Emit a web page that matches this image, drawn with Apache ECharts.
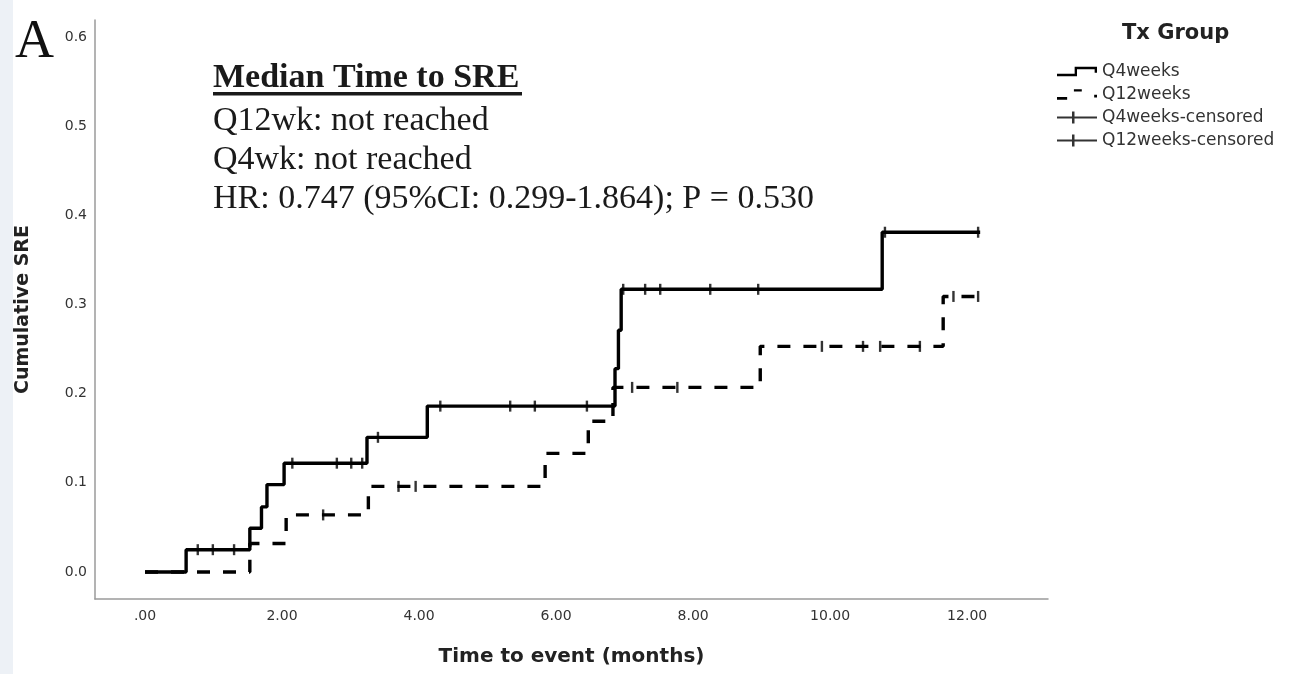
<!DOCTYPE html>
<html>
<head>
<meta charset="utf-8">
<script src="https://cdn.jsdelivr.net/npm/echarts@6/dist/echarts.min.js"></script>
<style>
html,body{margin:0;padding:0;background:#fff}
#chart{width:1296px;height:674px}
</style>
</head>
<body>
<div id="chart"></div>
<script>
// Cumulative incidence of skeletal-related events (SRE) by treatment interval
const xTicks = [0, 2, 4, 6, 8, 10, 12];
const yTicks = [0, 0.1, 0.2, 0.3, 0.4, 0.5, 0.6];

// Step points: [months, cumulative SRE]
const q4Steps = [[0,0],[0.60,0.025],[1.53,0.049],[1.70,0.073],[1.78,0.098],[2.03,0.122],[3.24,0.151],[4.12,0.186],[6.86,0.228],[6.91,0.271],[6.95,0.317],[10.76,0.381],[12.19,0.381]];
const q12Steps = [[0,0],[1.53,0.032],[2.06,0.064],[3.26,0.096],[5.84,0.133],[6.47,0.169],[6.83,0.207],[8.98,0.253],[11.65,0.309],[12.19,0.309]];

// Censored observations
const q4Censored = [[0.77,0.025],[0.99,0.025],[1.30,0.025],[2.15,0.122],[2.80,0.122],[3.01,0.122],[3.17,0.122],[3.40,0.151],[4.31,0.186],[5.33,0.186],[5.69,0.186],[6.45,0.186],[6.98,0.317],[7.30,0.317],[7.52,0.317],[8.25,0.317],[8.95,0.317],[10.80,0.381],[12.16,0.381]];
const q12Censored = [[2.60,0.064],[3.70,0.096],[3.95,0.096],[7.11,0.207],[7.77,0.207],[9.88,0.253],[10.48,0.253],[10.73,0.253],[11.31,0.253],[11.80,0.309],[12.16,0.309]];

const groupNames = ['Q4weeks', 'Q12weeks', 'Q4weeks-censored', 'Q12weeks-censored'];
const annotation = [
  'Median Time to SRE',
  'Q12wk: not reached',
  'Q4wk: not reached',
  'HR: 0.747 (95%CI: 0.299-1.864); P = 0.530'
];

const SANS = '"DejaVu Sans", "Liberation Sans", sans-serif';
const SERIF = '"Liberation Serif", "Times New Roman", serif';

// Legend glyphs (40 x 12 box)
const iconStep = 'path://M0,7 L15,7 L15,1 L34,1 L34,6 L32,6 L32,3 L17,3 L17,9 L0,9 Z';
const iconDash = 'path://M0,8 L9,8 L9,10.5 L0,10.5 Z M15,1 L22,1 L22,3 L15,3 Z M33,6 L35.5,6 L35.5,8.5 L33,8.5 Z';
const iconCensor = 'path://M0,5 L40,5 L40,7 L0,7 Z M15,0 L17.5,0 L17.5,12 L15,12 Z';

const chart = echarts.init(document.getElementById('chart'), null, { renderer: 'canvas' });

chart.setOption({
  animation: false,
  backgroundColor: '#ffffff',
  title: {
    text: 'Tx Group',
    left: 1117,
    top: 18,
    textStyle: { fontFamily: SANS, fontSize: 21, fontWeight: 'bold', color: '#222' }
  },
  legend: {
    orient: 'vertical',
    left: 1052,
    top: 58,
    itemWidth: 40,
    itemHeight: 12,
    itemGap: 6,
    itemStyle: { borderWidth: 0 },
    textStyle: { fontFamily: SANS, fontSize: 17, color: '#333', lineHeight: 17 },
    data: [
      { name: groupNames[0], icon: iconStep },
      { name: groupNames[1], icon: iconDash },
      { name: groupNames[2], icon: iconCensor },
      { name: groupNames[3], icon: iconCensor }
    ]
  },
  grid: { left: 95, right: 248, top: 20, bottom: 75, containLabel: false },
  xAxis: {
    type: 'value',
    min: -0.73,
    max: 13.18,
    name: 'Time to event (months)',
    nameLocation: 'middle',
    nameGap: 48,
    nameTextStyle: { fontFamily: SANS, fontSize: 20, fontWeight: 'bold', color: '#222' },
    axisLine: { show: true, onZero: false, lineStyle: { color: '#9a9a9a', width: 1.5 } },
    axisTick: { show: false },
    splitLine: { show: false },
    axisLabel: {
      customValues: xTicks,
      margin: 10,
      fontFamily: SANS,
      fontSize: 14,
      color: '#333',
      formatter: v => (v === 0 ? '.00' : v.toFixed(2))
    }
  },
  yAxis: {
    type: 'value',
    min: -0.0303,
    max: 0.619,
    name: 'Cumulative SRE',
    nameLocation: 'middle',
    nameGap: 62,
    nameTextStyle: { fontFamily: SANS, fontSize: 19, fontWeight: 'bold', color: '#222' },
    axisLine: { show: true, onZero: false, lineStyle: { color: '#9a9a9a', width: 1.5 } },
    axisTick: { show: false },
    splitLine: { show: false },
    axisLabel: {
      customValues: yTicks,
      margin: 8,
      fontFamily: SANS,
      fontSize: 14,
      color: '#333',
      formatter: v => v.toFixed(1)
    }
  },
  graphic: [
    { type: 'rect', left: 0, top: 0, z: -10, shape: { width: 13, height: 674 }, style: { fill: '#edf1f6' } },
    { type: 'text', x: 15, y: 43, style: { text: 'A', font: '54px ' + SERIF, fill: '#111', textVerticalAlign: 'middle', verticalAlign: 'middle' } },
    { type: 'text', x: 213, y: 78, style: { text: annotation[0], font: 'bold 34px ' + SERIF, fill: '#1a1a1a', textVerticalAlign: 'middle', verticalAlign: 'middle' } },
    { type: 'rect', shape: { x: 213, y: 92, width: 309, height: 3.5 }, style: { fill: '#1a1a1a' } },
    { type: 'text', x: 213, y: 121, style: { text: annotation[1], font: '34px ' + SERIF, fill: '#1a1a1a', textVerticalAlign: 'middle', verticalAlign: 'middle' } },
    { type: 'text', x: 213, y: 160, style: { text: annotation[2], font: '34px ' + SERIF, fill: '#1a1a1a', textVerticalAlign: 'middle', verticalAlign: 'middle' } },
    { type: 'text', x: 213, y: 199, style: { text: annotation[3], font: '34px ' + SERIF, fill: '#1a1a1a', textVerticalAlign: 'middle', verticalAlign: 'middle' } }
  ],
  series: [
    {
      name: groupNames[1],
      type: 'line',
      step: 'end',
      data: q12Steps,
      symbol: 'none',
      z: 2,
      itemStyle: { color: '#000' },
      lineStyle: { color: '#000', width: 3.4, type: [13, 13] }
    },
    {
      name: groupNames[0],
      type: 'line',
      step: 'end',
      data: q4Steps,
      symbol: 'none',
      z: 3,
      itemStyle: { color: '#000' },
      lineStyle: { color: '#000', width: 3.4, type: 'solid' }
    },
    {
      name: groupNames[2],
      type: 'scatter',
      data: q4Censored,
      symbol: 'rect',
      symbolSize: [2.4, 11],
      z: 4,
      itemStyle: { color: '#000' }
    },
    {
      name: groupNames[3],
      type: 'scatter',
      data: q12Censored,
      symbol: 'rect',
      symbolSize: [2.4, 11],
      z: 4,
      itemStyle: { color: '#000' }
    }
  ]
});
</script>
</body>
</html>
